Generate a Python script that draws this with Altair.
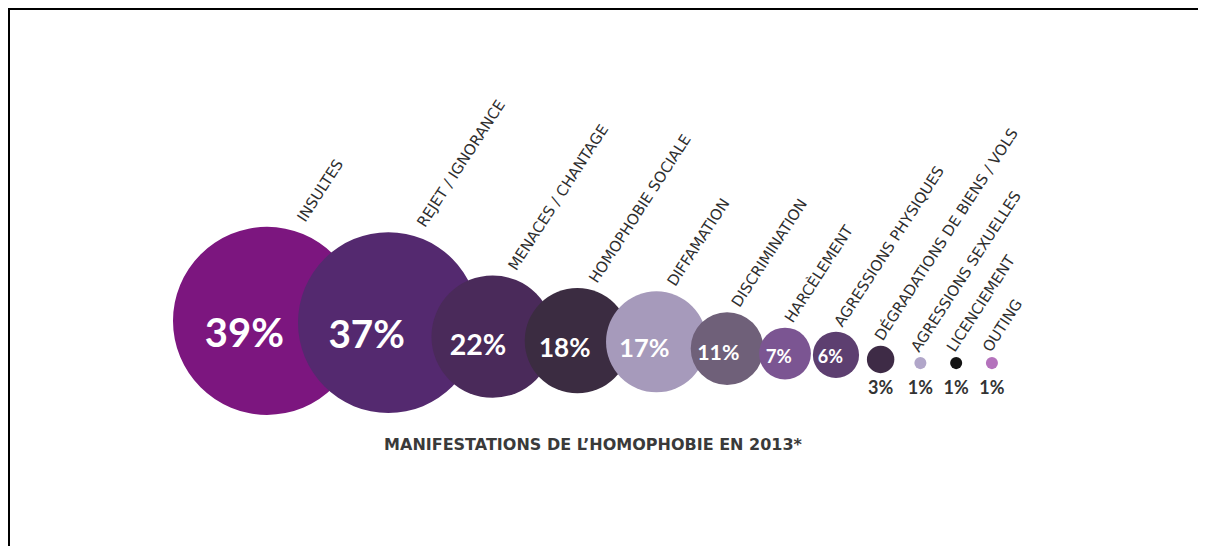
import altair as alt
import pandas as pd

# ---------------- data ----------------
categories = [
    "Insultes", "Rejet / Ignorance", "Menaces / chantage", "Homophobie sociale",
    "Diffamation", "Discrimination", "Harcèlement", "Agressions physiques",
    "Dégradations de biens / vols", "Agressions sexuelles", "Licenciement", "Outing",
]
values = [39, 37, 22, 18, 17, 11, 7, 6, 3, 1, 1, 1]
title_text = "Manifestations de l’homophobie en 2013*"

# ---------------- styles ----------------
palette = [
    "#7c167f", "#54296f", "#4a2a5a", "#3b2c41", "#a69abb", "#6f6079",
    "#7b5592", "#5d3f70", "#3e2b46", "#b1a6c9", "#141414", "#b472bc",
]
W, H = 1190, 538
R_MAX = 94          # radius of the biggest bubble (px)
EXP = 1.5           # size (area) ~ value ** EXP
V_MAX = max(values)

# ---------------- layout (computed from values) ----------------
def radius(v):
    return R_MAX * (v / V_MAX) ** (EXP / 2)

rows = []
cx = 259.0
prev_r = None
for cat, v in zip(categories, values):
    r = radius(v)
    if prev_r is not None:
        cx += 0.52 * (prev_r + r) + 25.5 + (4 if r < 10 else 0)
    cy = 358 - 0.48 * r
    inside = v >= 5
    rows.append({
        "category": cat,
        "value": v,
        "pct": f"{v}%",
        "cx": cx,
        "cy": cy,
        "inside": inside,
        "tx": cx - 0.24 * r if inside else cx,
        "ty": cy + 0.15 * r if inside else 381,
        "lx": cx + 0.45 * r - 4,
        "ly": cy - r - 4,
    })
    prev_r = r
df = pd.DataFrame(rows)
df_in = df[df["inside"]]
df_out = df[~df["inside"]]

xs = alt.Scale(domain=[0, W], nice=False, zero=False)
ys = alt.Scale(domain=[0, H], nice=False, zero=False, reverse=True)

bubbles = alt.Chart(df).mark_circle(opacity=1, stroke=None).encode(
    x=alt.X("cx:Q", scale=xs, axis=None),
    y=alt.Y("cy:Q", scale=ys, axis=None),
    size=alt.Size("value:Q",
                  scale=alt.Scale(type="pow", exponent=EXP, domain=[0, V_MAX],
                                  range=[0, (2 * R_MAX) ** 2]),
                  legend=None),
    color=alt.Color("category:N", scale=alt.Scale(domain=categories, range=palette),
                    legend=None),
)

pct_in = alt.Chart(df_in).mark_text(
    color="white", font="Lato", fontWeight="bold", align="center", baseline="middle"
).encode(
    x=alt.X("tx:Q", scale=xs, axis=None),
    y=alt.Y("ty:Q", scale=ys, axis=None),
    text="pct:N",
    size=alt.Size("value:Q", scale=alt.Scale(domain=[6, 39], range=[18, 40], clamp=True),
                  legend=None),
)

pct_out = alt.Chart(df_out).mark_text(
    color="#333333", font="Lato", fontWeight="bold", fontSize=18,
    align="center", baseline="middle"
).encode(
    x=alt.X("tx:Q", scale=xs, axis=None),
    y=alt.Y("ty:Q", scale=ys, axis=None),
    text="pct:N",
)

cat_labels = alt.Chart(df).transform_calculate(
    up="upper(datum.category)"
).mark_text(
    angle=303, align="left", baseline="alphabetic", font="DejaVu Sans",
    fontSize=15, color="#2e2e2e"
).encode(
    x=alt.X("lx:Q", scale=xs, axis=None),
    y=alt.Y("ly:Q", scale=ys, axis=None),
    text="up:N",
)

title = alt.Chart(pd.DataFrame({"t": [title_text]})).transform_calculate(
    up="upper(datum.t)"
).mark_text(
    font="DejaVu Sans", fontWeight="bold", fontSize=16, color="#3a3a3a",
    align="center", baseline="middle"
).encode(text="up:N", x=alt.value(585), y=alt.value(437))

frame = pd.DataFrame({"a": [0]})
top_rule = alt.Chart(frame).mark_rule(color="black", strokeWidth=2).encode(
    x=alt.value(0), x2=alt.value(W), y=alt.value(1))
left_rule = alt.Chart(frame).mark_rule(color="black", strokeWidth=2).encode(
    x=alt.value(1), y=alt.value(0), y2=alt.value(H))

chart = alt.layer(
    bubbles, pct_in, pct_out, cat_labels, title, top_rule, left_rule
).resolve_scale(size="independent").properties(
    width=W, height=H, autosize=alt.AutoSizeParams(type="none"), padding=0,
    background="white",
).configure_view(stroke=None)

chart.save("out.html", embed_options={"renderer": "svg", "actions": False})
